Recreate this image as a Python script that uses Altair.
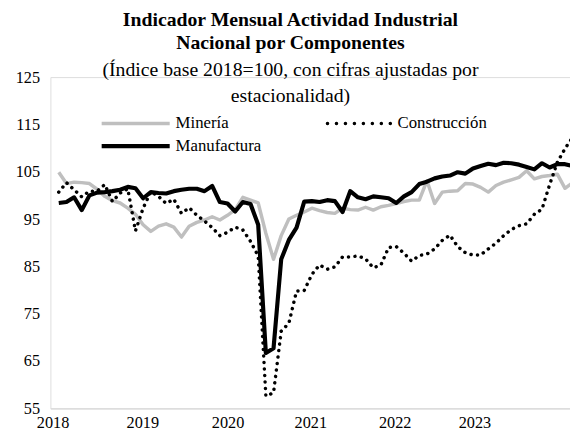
import altair as alt
import pandas as pd

# ---- data (monthly, Jan 2018 .. Aug 2023) ----
mineria = [104.9, 102.5, 102.8, 102.7, 102.5, 101.3, 99.8, 98.9, 98.4, 97.3,
           96.0, 93.8, 92.4, 93.5, 94.0, 93.3, 91.2, 93.5, 94.3, 94.8,
           95.5, 94.8, 95.8, 97.0, 99.6, 99.0, 98.4, 92.0, 86.5, 91.5,
           95.0, 95.8, 96.5, 97.3, 96.8, 96.4, 96.2, 97.3, 97.0, 96.9,
           97.5, 96.9, 97.6, 97.9, 98.3, 98.7, 99.0, 99.0, 103.1, 98.3,
           100.7, 100.9, 101.0, 102.5, 102.4, 101.7, 100.7, 102.1, 102.8, 103.3,
           103.8, 105.2, 103.5, 104.0, 104.2, 104.5, 101.5, 102.7]
construccion = [100.7, 102.7, 101.2, 99.7, 100.9, 100.9, 102.3, 98.7, 100.5, 101.4,
                92.5, 97.3, 100.8, 99.8, 98.3, 99.2, 96.2, 97.4, 95.8, 94.6,
                93.2, 91.5, 92.2, 93.3, 92.7, 90.3, 87.2, 57.6, 58.3, 71.3,
                73.0, 79.8, 79.9, 83.3, 85.3, 84.4, 84.9, 87.0, 87.0, 87.2,
                86.6, 84.7, 85.3, 89.0, 89.2, 87.8, 86.1, 87.3, 87.6, 88.7,
                90.5, 91.6, 89.2, 87.9, 87.4, 87.4, 88.7, 89.9, 91.5, 92.8,
                93.6, 94.0, 96.0, 97.1, 102.3, 107.0, 109.9, 112.3]
manufactura = [98.4, 98.6, 99.6, 96.9, 100.0, 100.6, 100.7, 100.9, 101.2, 101.8,
               101.5, 99.4, 100.7, 100.5, 100.4, 100.9, 101.2, 101.4, 101.4, 100.9,
               102.0, 98.6, 98.3, 96.6, 98.6, 98.2, 93.8, 66.7, 67.7, 86.5,
               90.6, 93.2, 98.7, 98.8, 98.6, 99.0, 98.8, 96.5, 100.9, 99.6,
               99.2, 99.8, 99.6, 99.4, 98.4, 99.8, 100.7, 102.4, 102.9, 103.6,
               104.0, 104.2, 104.9, 104.6, 105.7, 106.2, 106.7, 106.4, 106.9, 106.8,
               106.5, 106.0, 105.5, 106.8, 105.9, 106.6, 106.6, 106.2]

series_names = ["Minería", "Construcción", "Manufactura"]
year_labels = ["2018", "2019", "2020", "2021", "2022", "2023"]
year_label_pos = [-0.8, 10.9, 22.0, 32.8, 43.8, 54.2]   # in month-index units
y_ticks = [55, 65, 75, 85, 95, 105, 115, 125]

FONT = "Liberation Serif, Times New Roman, Times, DejaVu Serif, serif"

def frame(vals):
    return pd.DataFrame({"t": list(range(len(vals))), "v": vals})

label_expr = ("[" + ",".join(f"'{l}'" for l in year_labels) + "]"
              "[indexof([" + ",".join(str(p) for p in year_label_pos) + "], datum.value)]")

x_enc = alt.X("t:Q",
              scale=alt.Scale(domain=[-1.09, 66.65], nice=False, zero=False),
              axis=alt.Axis(values=year_label_pos, labelExpr=label_expr, ticks=False,
                            grid=False, domainColor="#D9D9D9", domainWidth=1.5,
                            labelFont=FONT, labelFontSize=16.5, labelColor="black",
                            labelPadding=6, labelFlush=False, labelOverlap=False,
                            title=None))
y_enc = alt.Y("v:Q",
              scale=alt.Scale(domain=[55, 125], nice=False, zero=False),
              axis=alt.Axis(values=y_ticks, ticks=False, domain=False, grid=False,
                            labelFont=FONT, labelFontSize=16.5, labelColor="black",
                            labelPadding=11, title=None))

l_min = alt.Chart(frame(mineria)).mark_line(
    color="#BFBFBF", strokeWidth=3.5, strokeJoin="round", clip=True
).encode(x=x_enc, y=y_enc)
l_con = alt.Chart(frame(construccion)).mark_line(
    color="black", strokeWidth=3.5, strokeDash=[0.1, 6.5], strokeCap="round",
    strokeJoin="round", clip=True
).encode(x=x_enc, y=y_enc)
l_man = alt.Chart(frame(manufactura)).mark_line(
    color="black", strokeWidth=4.2, strokeJoin="round", clip=True
).encode(x=x_enc, y=y_enc)

# ---- manual legend ----
one = pd.DataFrame({"a": [0]})
leg = []
leg.append(alt.Chart(one).mark_rule(color="#BFBFBF", strokeWidth=3.5).encode(
    x=alt.value(52), x2=alt.value(121), y=alt.value(47)))
leg.append(alt.Chart(one).mark_text(align="left", baseline="middle", font=FONT,
                                    fontSize=17, color="black").encode(
    x=alt.value(127), y=alt.value(47), text=alt.value(series_names[0])))
leg.append(alt.Chart(one).mark_rule(color="black", strokeWidth=3.5, strokeDash=[0.1, 9],
                                    strokeCap="round").encode(
    x=alt.value(281), x2=alt.value(345), y=alt.value(47)))
leg.append(alt.Chart(one).mark_text(align="left", baseline="middle", font=FONT,
                                    fontSize=17, color="black").encode(
    x=alt.value(352), y=alt.value(47), text=alt.value(series_names[1])))
leg.append(alt.Chart(one).mark_rule(color="black", strokeWidth=4.2).encode(
    x=alt.value(52), x2=alt.value(121), y=alt.value(70)))
leg.append(alt.Chart(one).mark_text(align="left", baseline="middle", font=FONT,
                                    fontSize=17, color="black").encode(
    x=alt.value(127), y=alt.value(70), text=alt.value(series_names[2])))

chart = alt.layer(l_min, l_con, l_man, *leg).properties(
    width=527, height=336,
    autosize=alt.AutoSizeParams(type="none"),
    padding={"left": 43, "top": 67, "right": 0, "bottom": 30},
    title=alt.Title(
        text=["Indicador Mensual Actividad Industrial", "Nacional por Componentes"],
        subtitle=["(Índice base 2018=100, con cifras ajustadas por", "estacionalidad)"],
        font=FONT, fontSize=20, fontWeight="bold", color="black", lineHeight=24,
        subtitleFont=FONT, subtitleFontSize=20, subtitleColor="black",
        subtitleLineHeight=26, subtitlePadding=7, anchor="middle",
        offset=-37, dx=-20),
).configure_view(stroke=None).configure(background="white")

chart.save("out.html", embed_options={"renderer": "svg", "actions": False})
